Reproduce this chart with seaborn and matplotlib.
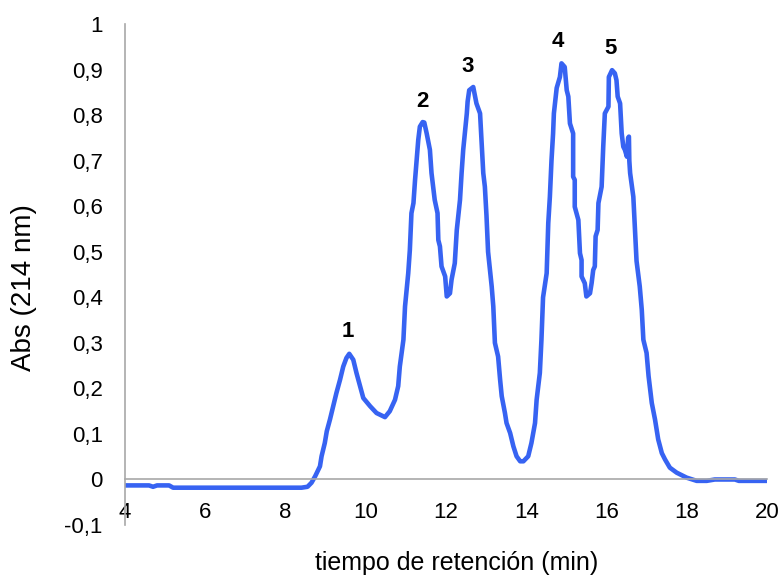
import numpy as np
import pandas as pd
import matplotlib
matplotlib.use("Agg")
import matplotlib.pyplot as plt
from matplotlib.ticker import FuncFormatter, MultipleLocator
import seaborn as sns

# chromatogram trace (time in min, absorbance at 214 nm)
tiempo = [4.0, 4.6, 4.7, 4.8, 5.1, 5.2, 8.4, 8.55, 8.65, 8.74, 8.86, 8.90, 8.98,
          9.03, 9.11, 9.19, 9.27, 9.36, 9.44, 9.52, 9.59, 9.69, 9.77, 9.86, 9.94,
          10.11, 10.27, 10.48, 10.60, 10.73, 10.81, 10.85, 10.94, 10.98, 11.06,
          11.10, 11.14, 11.19, 11.23, 11.27, 11.31, 11.35, 11.42, 11.46, 11.52,
          11.60, 11.64, 11.72, 11.79, 11.81, 11.85, 11.89, 11.98, 12.02, 12.10,
          12.14, 12.22, 12.27, 12.35, 12.39, 12.43, 12.47, 12.52, 12.54, 12.58,
          12.68, 12.76, 12.85, 12.89, 12.93, 12.97, 13.01, 13.05, 13.14, 13.18,
          13.22, 13.30, 13.35, 13.39, 13.47, 13.51, 13.60, 13.68, 13.76, 13.85,
          13.93, 14.05, 14.13, 14.22, 14.26, 14.34, 14.38, 14.42, 14.51, 14.55,
          14.59, 14.63, 14.67, 14.69, 14.76, 14.84, 14.88, 14.96, 15.01, 15.05,
          15.09, 15.17, 15.17, 15.21, 15.21, 15.30, 15.34, 15.38, 15.38, 15.46,
          15.50, 15.59, 15.63, 15.67, 15.71, 15.73, 15.78, 15.80, 15.88, 15.92,
          15.96, 16.05, 16.06, 16.14, 16.21, 16.25, 16.28, 16.34, 16.38, 16.42,
          16.46, 16.51, 16.54, 16.56, 16.57, 16.59, 16.67, 16.71, 16.75, 16.83,
          16.88, 16.92, 17.00, 17.05, 17.13, 17.21, 17.29, 17.38, 17.46, 17.58,
          17.75, 18.0, 18.25, 18.5, 18.7, 19.2, 19.3, 20.0]
absorbancia = [-0.013, -0.013, -0.016, -0.013, -0.013, -0.018, -0.018, -0.016,
               -0.007, 0.007, 0.029, 0.051, 0.080, 0.106, 0.132, 0.161, 0.190,
               0.219, 0.248, 0.267, 0.276, 0.263, 0.234, 0.205, 0.179, 0.161,
               0.146, 0.137, 0.150, 0.175, 0.205, 0.248, 0.307, 0.380, 0.453,
               0.504, 0.585, 0.607, 0.658, 0.702, 0.746, 0.775, 0.785, 0.784,
               0.760, 0.724, 0.673, 0.614, 0.585, 0.526, 0.512, 0.468, 0.446,
               0.402, 0.409, 0.439, 0.475, 0.548, 0.614, 0.673, 0.724, 0.760,
               0.804, 0.830, 0.855, 0.862, 0.826, 0.804, 0.738, 0.673, 0.643,
               0.580, 0.500, 0.424, 0.380, 0.300, 0.270, 0.219, 0.183, 0.146,
               0.124, 0.102, 0.073, 0.051, 0.040, 0.040, 0.051, 0.080, 0.124,
               0.175, 0.234, 0.307, 0.400, 0.453, 0.563, 0.621, 0.700, 0.760,
               0.804, 0.860, 0.884, 0.914, 0.906, 0.855, 0.841, 0.782, 0.760,
               0.665, 0.658, 0.599, 0.570, 0.497, 0.482, 0.446, 0.431, 0.402,
               0.409, 0.431, 0.460, 0.468, 0.534, 0.548, 0.607, 0.643, 0.731,
               0.804, 0.819, 0.884, 0.899, 0.892, 0.877, 0.841, 0.826, 0.760,
               0.731, 0.724, 0.709, 0.750, 0.753, 0.700, 0.673, 0.621, 0.548,
               0.480, 0.424, 0.373, 0.307, 0.278, 0.227, 0.168, 0.132, 0.088,
               0.058, 0.044, 0.026, 0.015, 0.004, -0.003, -0.003, 0.0, 0.0,
               -0.003, -0.003]

# peak numbers and where they sit
picos = ["1", "2", "3", "4", "5"]
picos_t = [9.56, 11.41, 12.55, 14.79, 16.09]
picos_v = [0.326, 0.831, 0.908, 0.961, 0.947]

df = pd.DataFrame({"t": tiempo, "abs": absorbancia})

sns.set_style("white")
plt.rcParams["font.family"] = ["Liberation Sans", "DejaVu Sans"]
plt.rcParams["text.color"] = "black"
plt.rcParams["axes.labelcolor"] = "black"

fig = plt.figure(figsize=(7.81, 5.76), dpi=100)
ax = fig.add_axes([0.160, 0.0885, 0.822, 0.8695])

sns.lineplot(data=df, x="t", y="abs", ax=ax, sort=False, estimator=None,
             color="#3763f2", linewidth=3.3)

for lab, tx, ty in zip(picos, picos_t, picos_v):
    ax.text(tx, ty, lab, ha="center", va="center", fontsize=16,
            fontweight="bold", color="black")

ax.set_xlim(4, 20)
ax.set_ylim(-0.1, 1.0)
ax.xaxis.set_major_locator(MultipleLocator(2))
ax.yaxis.set_major_locator(MultipleLocator(0.1))

def coma(v, pos):
    if abs(v) < 1e-9:
        return "0"
    if abs(v - 1) < 1e-9:
        return "1"
    return f"{v:.1f}".replace(".", ",")

ax.yaxis.set_major_formatter(FuncFormatter(coma))

for s in ["top", "right"]:
    ax.spines[s].set_visible(False)
ax.spines["bottom"].set_position(("data", 0))
for s in ["left", "bottom"]:
    ax.spines[s].set_color("#a8a8a8")
    ax.spines[s].set_linewidth(1.2)

ax.tick_params(axis="both", direction="out", length=7, width=1, color="#a8a8a8",
               labelsize=16, labelcolor="black")
ax.tick_params(axis="x", pad=9)
ax.tick_params(axis="y", pad=9)

ax.set_xlabel("tiempo de retención (min)", fontsize=18)
ax.set_ylabel("Abs (214 nm)", fontsize=20)
ax.xaxis.set_label_coords(0.516, -0.052)
ax.yaxis.set_label_coords(-0.137, 0.475)

fig.savefig("out.png", dpi=100)
